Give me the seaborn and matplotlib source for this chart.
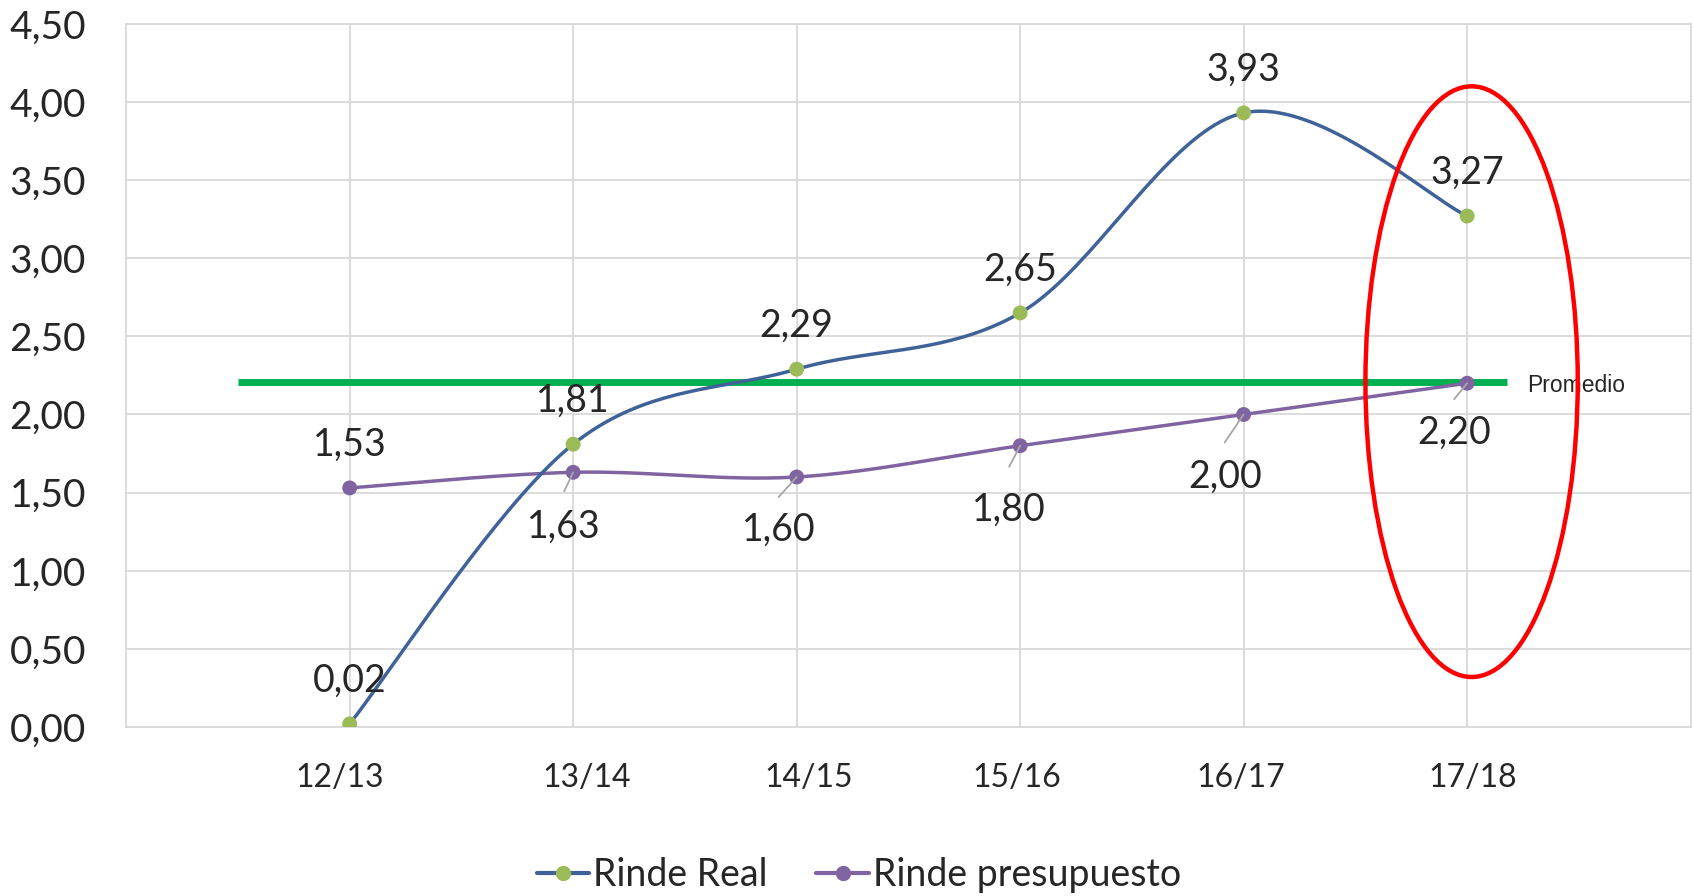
import numpy as np
import pandas as pd
import seaborn as sns
import matplotlib
matplotlib.use("Agg")
import matplotlib.pyplot as plt
import matplotlib.transforms as mtransforms
from matplotlib.patches import Ellipse
from matplotlib.lines import Line2D
from matplotlib.ticker import FuncFormatter

# datos
campanas = ["12/13", "13/14", "14/15", "15/16", "16/17", "17/18"]
rinde_real = [0.02, 1.81, 2.29, 2.65, 3.93, 3.27]
rinde_presupuesto = [1.53, 1.63, 1.60, 1.80, 2.00, 2.20]
promedio = 2.21

c_real = "#3F6398"
c_real_mk = "#9BBB59"
c_pres = "#8064A2"
c_prom = "#00B050"
c_grid = "#D9D9D9"

sns.set_theme(style="white")
plt.rcParams["font.family"] = ["Lato", "DejaVu Sans"]


def suavizar(ys, n=40):
    # curva suavizada tipo Excel (bezier catmull-rom) entre los puntos
    pts = np.column_stack([np.arange(len(ys)), ys]).astype(float)
    ext = np.vstack([pts[0], pts, pts[-1]])
    out = []
    for i in range(len(pts) - 1):
        p0, p1, p2, p3 = ext[i], ext[i + 1], ext[i + 2], ext[i + 3]
        c1 = p1 + (p2 - p0) / 6
        c2 = p2 - (p3 - p1) / 6
        t = np.linspace(0, 1, n)[:, None]
        seg = ((1 - t) ** 3) * p1 + 3 * ((1 - t) ** 2) * t * c1 + 3 * (1 - t) * t ** 2 * c2 + t ** 3 * p2
        out.append(seg if i == 0 else seg[1:])
    out = np.vstack(out)
    return out[:, 0], out[:, 1]


fig = plt.figure(figsize=(16.94, 8.96), dpi=100)
ax = fig.add_axes([0.0745, 0.1886, 0.9235, 0.7848])

xr, yr = suavizar(rinde_real)
xp, yp = suavizar(rinde_presupuesto)
sns.lineplot(x=xp, y=yp, sort=False, color=c_pres, linewidth=2.5, ax=ax, zorder=3)
sns.lineplot(x=xr, y=yr, sort=False, color=c_real, linewidth=2.5, ax=ax, zorder=3)

df = pd.DataFrame({"x": range(len(campanas)), "real": rinde_real, "pres": rinde_presupuesto})
sns.scatterplot(data=df, x="x", y="pres", color=c_pres, s=115, edgecolor="none", ax=ax, zorder=4)
sns.scatterplot(data=df, x="x", y="real", color=c_real_mk, s=115, edgecolor="none", ax=ax, zorder=4)

# linea de promedio
ax.plot([-0.5, 5.18], [promedio, promedio], color=c_prom, linewidth=5, zorder=2, solid_capstyle="butt")
ax.annotate("Promedio", (5.27, promedio), xytext=(0, -4), textcoords="offset pixels",
            family=["Liberation Sans", "DejaVu Sans"], fontsize=16.5, va="center", ha="left", zorder=5)

# elipse roja
ax.add_patch(Ellipse((5.02, 2.21), 0.95, 3.78, fill=False, edgecolor="#FF0000", linewidth=3.2, zorder=5))


def fmt(v):
    return f"{v:.2f}".replace(".", ",")


for i, v in enumerate(rinde_real):
    ax.annotate(fmt(v), (i, v), xytext=(0, 43), textcoords="offset pixels",
                ha="center", va="center", fontsize=27, zorder=6)

# (dx, dy etiqueta, dy guia) en pixeles
offs_pres = [(0, 43, 0), (-9, -54, -19), (-18, -53, -20), (-11, -64, -21), (-19, -62, -28), (-13, -49, -16)]
for i, v in enumerate(rinde_presupuesto):
    dx, dy, ld = offs_pres[i]
    ax.annotate(fmt(v), (i, v), xytext=(dx, dy), textcoords="offset pixels",
                ha="center", va="center", fontsize=27, zorder=6)
    if ld < 0:
        ax.annotate("", (i, v), xytext=(dx, ld), textcoords="offset pixels", zorder=6,
                    arrowprops=dict(arrowstyle="-", color="#A6A6A6", lw=1.3, shrinkA=0, shrinkB=0))

ax.set_xlim(-1, 6)
ax.set_ylim(0, 4.5)
ax.set_xticks(range(len(campanas)))
ax.set_xticklabels(campanas, fontsize=23)
ax.set_yticks(np.arange(0, 4.51, 0.5))
ax.yaxis.set_major_formatter(FuncFormatter(lambda v, p: fmt(v)))
ax.tick_params(axis="y", labelsize=28, length=0, pad=29)
ax.tick_params(axis="x", length=0, pad=26)
ax.grid(True, color=c_grid, linewidth=1.3)
ax.set_axisbelow(True)
for s in ax.spines.values():
    s.set_color(c_grid)
    s.set_linewidth(1.3)
ax.set_xlabel("")
ax.set_ylabel("")

# pequeño corrimiento horizontal de las etiquetas del eje x
corr = [-10, 13, 12, -3, -3, 6]
for lab, d in zip(ax.get_xticklabels(), corr):
    lab.set_transform(lab.get_transform() + mtransforms.ScaledTranslation(d / 100, 0, fig.dpi_scale_trans))

handles = [
    Line2D([], [], color=c_real, lw=3, marker="o", markersize=10, markerfacecolor=c_real_mk,
           markeredgecolor=c_real_mk),
    Line2D([], [], color=c_pres, lw=3, marker="o", markersize=10, markerfacecolor=c_pres,
           markeredgecolor=c_pres),
]
fig.legend(handles, ["Rinde Real", "Rinde presupuesto"], loc="center", bbox_to_anchor=(0.507, 0.023),
           ncol=2, frameon=False, fontsize=27, handlelength=1.4, handletextpad=0.1, columnspacing=1.3)

fig.savefig("out.png", dpi=100)
